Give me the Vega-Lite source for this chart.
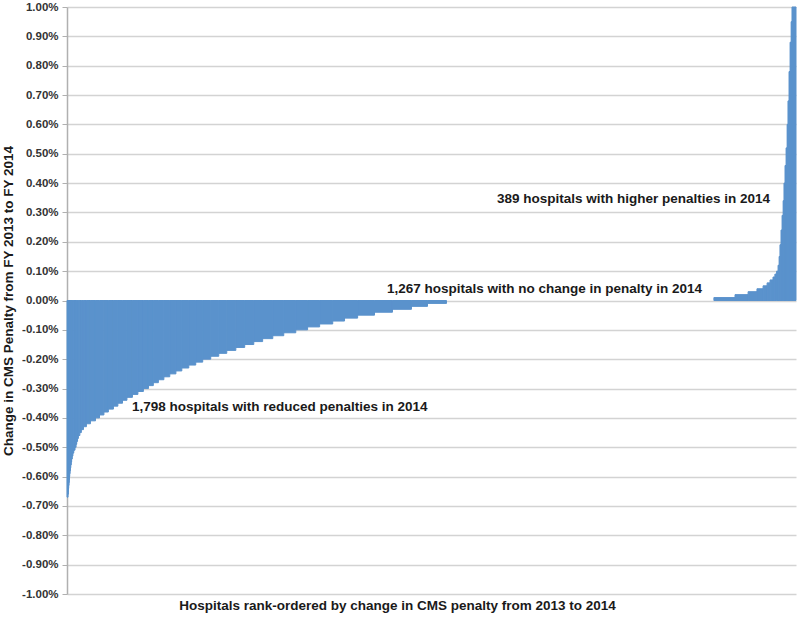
{
  "$schema": "https://vega.github.io/schema/vega-lite/v6.json",
  "width": 729,
  "height": 587,
  "autosize": {"type": "none"},
  "padding": {"left": 67, "top": 7, "right": 4, "bottom": 24},
  "background": "white",
  "config": {
    "font": "Liberation Sans",
    "view": {"stroke": null}
  },
  "datasets": {
    "groups": [
      {"start": 0, "end": 5, "value": -0.0067},
      {"start": 5, "end": 6, "value": -0.0066},
      {"start": 6, "end": 7, "value": -0.0065},
      {"start": 7, "end": 8, "value": -0.0064},
      {"start": 8, "end": 9, "value": -0.0063},
      {"start": 9, "end": 10, "value": -0.0062},
      {"start": 10, "end": 11, "value": -0.0061},
      {"start": 11, "end": 13, "value": -0.006},
      {"start": 13, "end": 14, "value": -0.0059},
      {"start": 14, "end": 16, "value": -0.0058},
      {"start": 16, "end": 18, "value": -0.0057},
      {"start": 18, "end": 20, "value": -0.0056},
      {"start": 20, "end": 22, "value": -0.0055},
      {"start": 22, "end": 25, "value": -0.0054},
      {"start": 25, "end": 28, "value": -0.0053},
      {"start": 28, "end": 32, "value": -0.0052},
      {"start": 32, "end": 38, "value": -0.0051},
      {"start": 38, "end": 43, "value": -0.005},
      {"start": 43, "end": 46, "value": -0.0049},
      {"start": 46, "end": 50, "value": -0.0048},
      {"start": 50, "end": 54, "value": -0.0047},
      {"start": 54, "end": 61, "value": -0.0046},
      {"start": 61, "end": 68, "value": -0.0045},
      {"start": 68, "end": 78, "value": -0.0044},
      {"start": 78, "end": 92, "value": -0.0043},
      {"start": 92, "end": 111, "value": -0.0042},
      {"start": 111, "end": 135, "value": -0.0041},
      {"start": 135, "end": 154, "value": -0.004},
      {"start": 154, "end": 175, "value": -0.0039},
      {"start": 175, "end": 196, "value": -0.0038},
      {"start": 196, "end": 220, "value": -0.0037},
      {"start": 220, "end": 241, "value": -0.0036},
      {"start": 241, "end": 263, "value": -0.0035},
      {"start": 263, "end": 284, "value": -0.0034},
      {"start": 284, "end": 310, "value": -0.0033},
      {"start": 310, "end": 336, "value": -0.0032},
      {"start": 336, "end": 362, "value": -0.0031},
      {"start": 362, "end": 386, "value": -0.003},
      {"start": 386, "end": 409, "value": -0.0029},
      {"start": 409, "end": 433, "value": -0.0028},
      {"start": 433, "end": 459, "value": -0.0027},
      {"start": 459, "end": 487, "value": -0.0026},
      {"start": 487, "end": 516, "value": -0.0025},
      {"start": 516, "end": 544, "value": -0.0024},
      {"start": 544, "end": 577, "value": -0.0023},
      {"start": 577, "end": 610, "value": -0.0022},
      {"start": 610, "end": 643, "value": -0.0021},
      {"start": 643, "end": 681, "value": -0.002},
      {"start": 681, "end": 719, "value": -0.0019},
      {"start": 719, "end": 757, "value": -0.0018},
      {"start": 757, "end": 800, "value": -0.0017},
      {"start": 800, "end": 842, "value": -0.0016},
      {"start": 842, "end": 885, "value": -0.0015},
      {"start": 885, "end": 927, "value": -0.0014},
      {"start": 927, "end": 975, "value": -0.0013},
      {"start": 975, "end": 1027, "value": -0.0012},
      {"start": 1027, "end": 1084, "value": -0.0011},
      {"start": 1084, "end": 1140, "value": -0.001},
      {"start": 1140, "end": 1197, "value": -0.0009},
      {"start": 1197, "end": 1259, "value": -0.0008},
      {"start": 1259, "end": 1315, "value": -0.0007},
      {"start": 1315, "end": 1377, "value": -0.0006},
      {"start": 1377, "end": 1457, "value": -0.0005},
      {"start": 1457, "end": 1542, "value": -0.0004},
      {"start": 1542, "end": 1632, "value": -0.0003},
      {"start": 1632, "end": 1708, "value": -0.0002},
      {"start": 1708, "end": 1798, "value": -0.0001},
      {"start": 3065, "end": 3165, "value": 0.0001},
      {"start": 3165, "end": 3227, "value": 0.0002},
      {"start": 3227, "end": 3269, "value": 0.0003},
      {"start": 3269, "end": 3298, "value": 0.0004},
      {"start": 3298, "end": 3317, "value": 0.0005},
      {"start": 3317, "end": 3331, "value": 0.0006},
      {"start": 3331, "end": 3345, "value": 0.0007},
      {"start": 3345, "end": 3354, "value": 0.0008},
      {"start": 3354, "end": 3362, "value": 0.0009},
      {"start": 3362, "end": 3369, "value": 0.001},
      {"start": 3369, "end": 3374, "value": 0.0012},
      {"start": 3374, "end": 3378, "value": 0.0015},
      {"start": 3378, "end": 3383, "value": 0.0019},
      {"start": 3383, "end": 3388, "value": 0.0024},
      {"start": 3388, "end": 3393, "value": 0.0029},
      {"start": 3393, "end": 3397, "value": 0.0034},
      {"start": 3397, "end": 3402, "value": 0.004},
      {"start": 3402, "end": 3407, "value": 0.0046},
      {"start": 3407, "end": 3412, "value": 0.0052},
      {"start": 3412, "end": 3416, "value": 0.006},
      {"start": 3416, "end": 3421, "value": 0.0068},
      {"start": 3421, "end": 3426, "value": 0.0078},
      {"start": 3426, "end": 3431, "value": 0.0088},
      {"start": 3431, "end": 3435, "value": 0.0095},
      {"start": 3435, "end": 3454, "value": 0.01}
    ],
    "notes": [
      {"start": 2037, "value": 0.00346, "label": "389 hospitals with higher penalties in 2014"},
      {"start": 1516, "value": 0.00039, "label": "1,267 hospitals with no change in penalty in 2014"},
      {"start": 308, "value": -0.00363, "label": "1,798 hospitals with reduced penalties in 2014"}
    ]
  },
  "encoding": {
    "x": {
      "field": "start",
      "type": "quantitative",
      "scale": {"domain": [0, 3454], "nice": false, "zero": false},
      "axis": {
        "title": "Hospitals rank-ordered by change in CMS penalty from 2013 to 2014",
        "labels": false,
        "ticks": false,
        "domain": false,
        "grid": false,
        "titleFont": "Liberation Sans",
        "titleFontSize": 13.5,
        "titleFontWeight": "bold",
        "titleColor": "#1a1a1a",
        "titlePadding": 4,
        "titleX": 330
      }
    },
    "y": {
      "field": "value",
      "type": "quantitative",
      "scale": {"domain": [-0.01, 0.01], "nice": false},
      "axis": {
        "title": "Change in CMS Penalty from FY 2013 to FY 2014",
        "tickCount": 30,
        "values": [-0.01, -0.009, -0.008, -0.007, -0.006, -0.005, -0.004, -0.003, -0.002, -0.001, 0, 0.001, 0.002, 0.003, 0.004, 0.005, 0.006, 0.007, 0.008, 0.009, 0.01],
        "labelExpr": "replace(format(datum.value, '.2%'), '\u2212', '-')",
        "labelOverlap": false,
        "labelFlush": false,
        "labelFont": "Liberation Sans",
        "labelFontSize": 11.5,
        "labelFontWeight": "bold",
        "labelColor": "#333333",
        "labelPadding": 4,
        "tickSize": 5,
        "tickColor": "#b0b0b0",
        "domainColor": "#b0b0b0",
        "domainWidth": 1.5,
        "grid": true,
        "gridColor": "#d3d3d3",
        "gridWidth": 1.5,
        "titleFont": "Liberation Sans",
        "titleFontSize": 13.5,
        "titleFontWeight": "bold",
        "titleColor": "#1a1a1a",
        "titlePadding": 6
      }
    }
  },
  "layer": [
    {
      "data": {"name": "groups"},
      "mark": {"type": "rect", "color": "#5a92cc", "stroke": "#5a92cc", "strokeWidth": 1},
      "encoding": {
        "x2": {"field": "end"},
        "y2": {"datum": 0}
      }
    },
    {
      "data": {"name": "notes"},
      "mark": {"type": "text", "align": "left", "baseline": "middle", "font": "Liberation Sans", "fontSize": 13.5, "fontWeight": "bold", "color": "#1a1a1a"},
      "encoding": {
        "text": {"field": "label"}
      }
    }
  ]
}
